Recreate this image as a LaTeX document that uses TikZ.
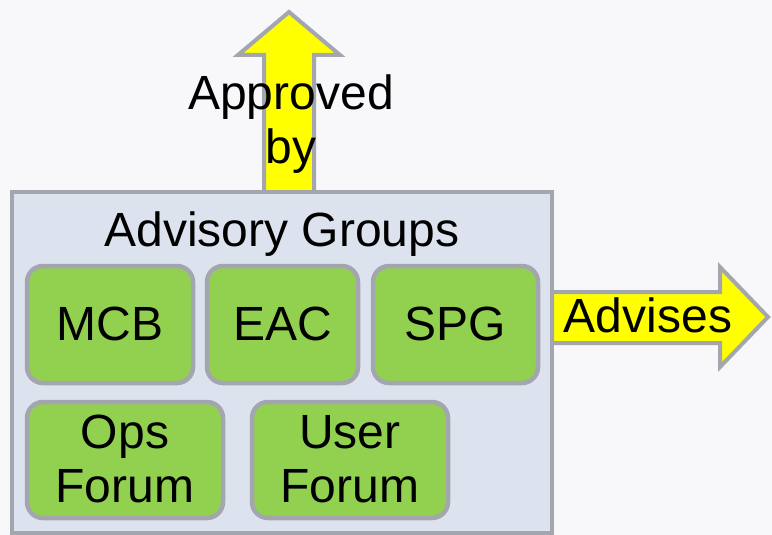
\documentclass[tikz,border=0pt]{standalone}
\usepackage{fontspec}
\setmainfont{Liberation Sans}
\definecolor{bgc}{HTML}{F8F8FB}
\definecolor{panel}{HTML}{DDE3EE}
\definecolor{edge}{HTML}{A3A6AE}
\definecolor{grn}{HTML}{92D050}
\definecolor{ylw}{HTML}{FFFF00}
\tikzset{
  big/.style={font=\fontsize{48}{54}\selectfont, inner sep=0pt, align=center},
  gbox/.style={draw=edge, line width=4.5pt, fill=grn, rounded corners=16pt},
  arrowshape/.style={draw=edge, line width=4pt, fill=ylw, line join=miter},
}
\begin{document}
\begin{tikzpicture}[x=1pt,y=-1pt]
\useasboundingbox[fill=bgc] (0,0) rectangle (772,535);
% arrows
\draw[arrowshape] (264,192) -- (264,55) -- (238,55) -- (289,12) -- (340,55) -- (314,55) -- (314,192) -- cycle;
\draw[arrowshape] (552,292) -- (720,292) -- (720,267) -- (768,317) -- (720,367) -- (720,343) -- (552,343) -- cycle;
% outer panel
\draw[draw=edge, line width=4pt, fill=panel] (12,192) rectangle (552,533);
\node[big, anchor=base] (title) at (282,246) {Advisory Groups};
% green boxes
\draw[gbox] (27,266) rectangle (193,383);
\node[big, anchor=base] (mcb) at (110,340) {MCB};
\draw[gbox] (207,266) rectangle (358,383);
\node[big, anchor=base] (eac) at (282.5,340) {EAC};
\draw[gbox] (373,266) rectangle (538,383);
\node[big, anchor=base] (spg) at (455.5,340) {SPG};
\draw[gbox] (27,402) rectangle (223,518);
\node[big, anchor=base] (ops) at (125,502) {Ops\\Forum};
\draw[gbox] (252,402) rectangle (448,518);
\node[big, anchor=base] (user) at (350,502) {User\\Forum};
% arrow labels
\node[big, anchor=base] (appr) at (291,163) {Approved\\by};
\node[big, anchor=base] (adv) at (648,332) {Advises};
\end{tikzpicture}
\end{document}
